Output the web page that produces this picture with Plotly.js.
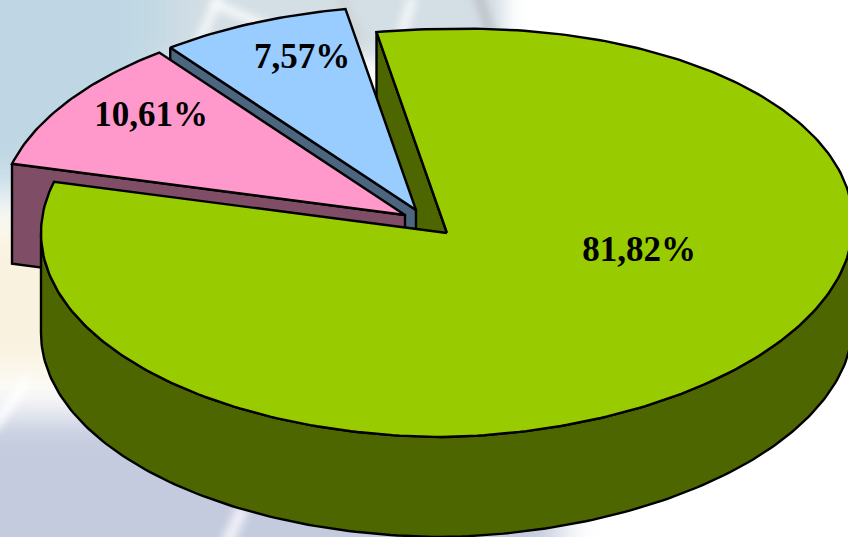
<!DOCTYPE html>
<html>
<head>
<meta charset="utf-8">
<script src="https://cdn.plot.ly/plotly-3.0.1.min.js"></script>
<style>html,body{margin:0;padding:0;background:#fff;overflow:hidden}#chart{width:848px;height:537px}</style>
</head>
<body>
<div id="chart"></div>
<script>
// Data
const sliceNames = ["A", "B", "C"];
const sliceValues = [81.82, 10.61, 7.57];
const sliceLabels = ["81,82%", "10,61%", "7,57%"];
const topColors = ["#99CC00", "#FF99CC", "#99CCFF"];
const wallColors = ["#4D6600", "#804D66", "#4D6680"];

// Projection of the exploded 3D pie
const startDeg = -10, RX = 406, RY = 204, DEPTH = 100, SHEAR = 0.025;
const apexX = [447, 405, 416], apexY = [233, 215, 210];
const labelX = [639, 151, 302], labelY = [252, 117, 59];

const total = sliceValues.reduce((a, b) => a + b, 0);
let cum = startDeg;
const spans = sliceValues.map(v => { const s = cum; cum += v / total * 360; return [s, cum]; });

function pt(i, deg, drop) {
  const r = deg * Math.PI / 180, dx = RX * Math.sin(r);
  return [apexX[i] + dx, apexY[i] - RY * Math.cos(r) - SHEAR * Math.max(0, dx) + drop];
}
function arc(i, a, b, drop) {
  const out = [], n = Math.max(2, Math.ceil(Math.abs(b - a)));
  for (let k = 0; k <= n; k++) out.push(pt(i, a + (b - a) * k / n, drop));
  return out;
}
function poly(points, fill, name) {
  const p = points.concat([points[0]]);
  return {type: "scatter", mode: "lines", x: p.map(q => q[0]), y: p.map(q => q[1]), fill: "toself",
    fillcolor: fill, line: {color: "#000", width: 2.4}, hoverinfo: "skip", showlegend: false, name: name};
}
function topFace(i) {
  return poly([[apexX[i], apexY[i]]].concat(arc(i, spans[i][0], spans[i][1], 0)), topColors[i], sliceNames[i]);
}
function wall(i, deg) {
  const e = pt(i, deg, 0);
  return poly([e, [apexX[i], apexY[i]], [apexX[i], apexY[i] + DEPTH], [e[0], e[1] + DEPTH]], wallColors[i], sliceNames[i] + " wall");
}
const rim = poly(arc(0, 90, 270, 0).concat(arc(0, 270, 90, DEPTH)), wallColors[0], "A rim");

const traces = [
  wall(0, spans[0][0]),
  wall(2, spans[2][0]), topFace(2),
  wall(1, spans[1][0]), topFace(1),
  rim, topFace(0),
  {type: "scatter", mode: "text", x: labelX, y: labelY, text: sliceLabels, textposition: "middle center",
   textfont: {family: "Liberation Serif", size: 35, color: "#000", weight: 700},
   hoverinfo: "skip", showlegend: false, cliponaxis: false}
];

// Soft photographic backdrop
function backdrop() {
  const c = document.createElement("canvas"); c.width = 848; c.height = 537;
  const g = c.getContext("2d");
  g.fillStyle = "#fff"; g.fillRect(0, 0, 848, 537);
  const blob = (col, blur, x, y, w, h) => { g.filter = `blur(${blur}px)`; g.fillStyle = col; g.fillRect(x, y, w, h); };
  blob("#d4dfe5", 10, 120, -30, 385, 90);
  blob("#bfd7e4", 24, -80, -80, 250, 275);
  blob("#f9f2df", 20, -60, 225, 190, 150);
  blob("#c4cbde", 18, -60, 415, 620, 220);
  g.filter = "blur(5px)"; g.lineCap = "round";
  const line = (col, w, x1, y1, x2, y2) => { g.strokeStyle = col; g.lineWidth = w; g.beginPath(); g.moveTo(x1, y1); g.lineTo(x2, y2); g.stroke(); };
  line("#fff", 9, -5, 425, 26, 382);
  line("#f6f4fb", 11, 226, 545, 242, 510);
  line("#fff", 7, 195, 50, 218, 0);
  line("#fff", 7, 215, 4, 280, 32);
  line("#fff", 7, 395, 55, 412, 0);
  line("#b8bcbf", 8, 478, -5, 497, 50);
  line("#cdd2d6", 8, 340, -5, 360, 40);
  g.filter = "none";
  return c.toDataURL("image/png");
}

const layout = {
  width: 848, height: 537, margin: {l: 0, r: 0, t: 0, b: 0},
  paper_bgcolor: "rgba(0,0,0,0)", plot_bgcolor: "rgba(0,0,0,0)", showlegend: false,
  xaxis: {range: [0, 848], visible: false, fixedrange: true},
  yaxis: {range: [537, 0], visible: false, fixedrange: true},
  images: [{source: backdrop(), xref: "paper", yref: "paper", x: 0, y: 0, sizex: 1, sizey: 1,
            xanchor: "left", yanchor: "bottom", sizing: "stretch", layer: "below"}]
};
Plotly.newPlot("chart", traces, layout, {displayModeBar: false, staticPlot: true});
</script>
</body>
</html>
